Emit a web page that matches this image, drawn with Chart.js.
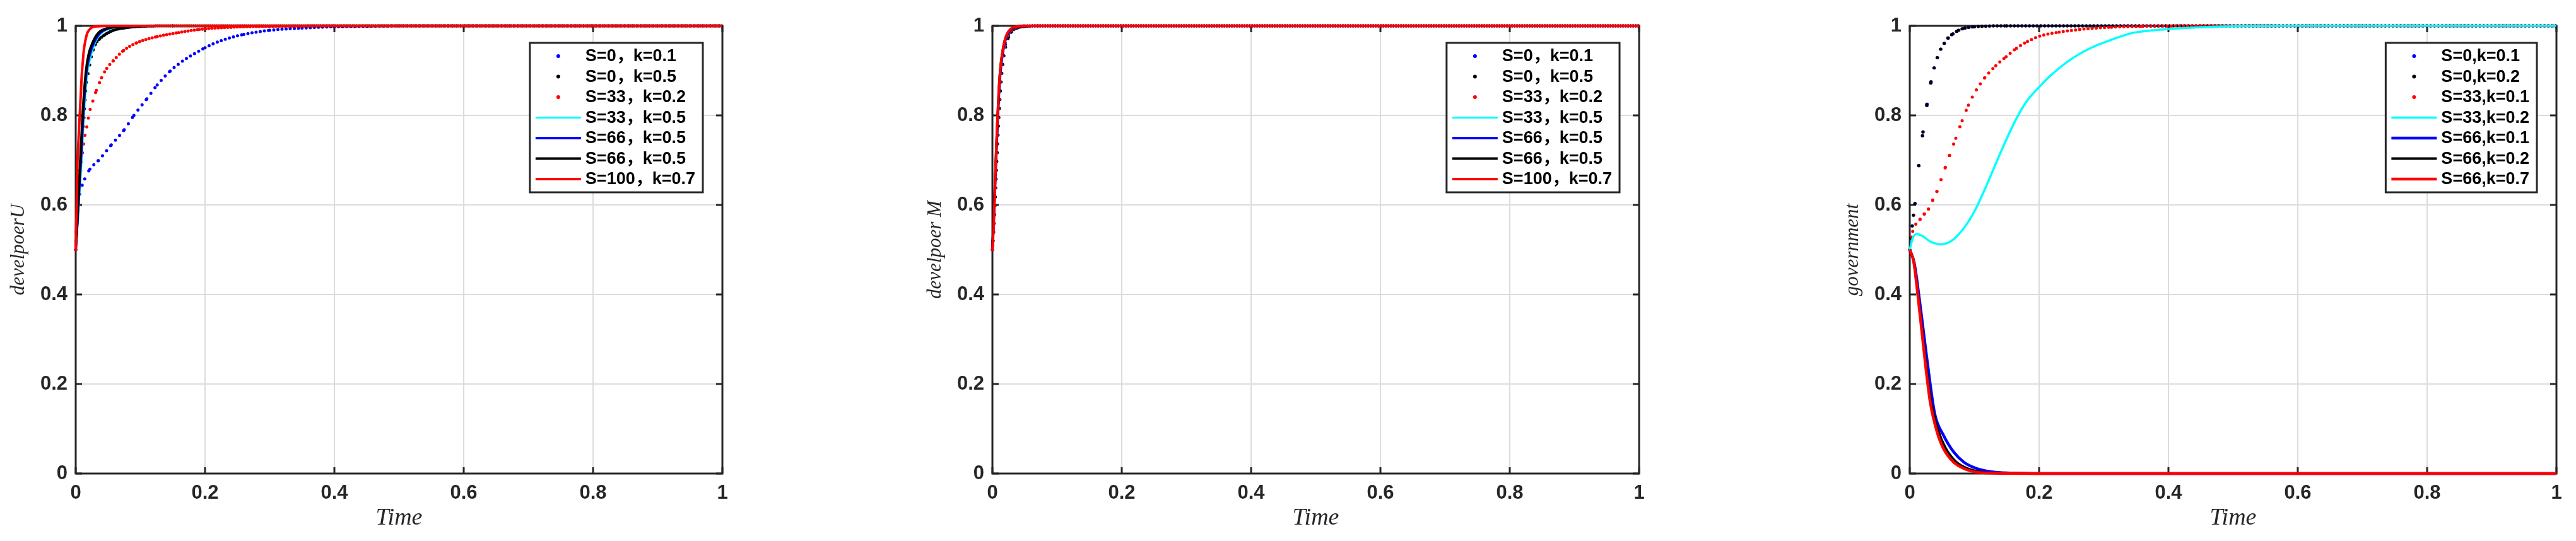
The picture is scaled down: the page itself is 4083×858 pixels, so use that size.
<!DOCTYPE html>
<html>
<head>
<meta charset="utf-8">
<script src="https://cdn.jsdelivr.net/npm/chart.js@4.4.0/dist/chart.umd.min.js"></script>
<style>
  body { margin: 0; background: #fff; width: 4083px; height: 858px; overflow: hidden; position: relative; }
  canvas { position: absolute; top: 0; }
</style>
</head>
<body>
<canvas id="chartU" width="1170" height="858" style="left:0px"></canvas>
<canvas id="chartM" width="1170" height="858" style="left:1453px"></canvas>
<canvas id="chartG" width="1170" height="858" style="left:2907px"></canvas>
<script>
// ticks
const TIME_TICKS = [0, 0.2, 0.4, 0.6, 0.8, 1];
const VALUE_TICKS = [0, 0.2, 0.4, 0.6, 0.8, 1];
const TICK_LABELS = ["0", "0.2", "0.4", "0.6", "0.8", "1"];

// legend labels
const LABELS_U = ["S=0，k=0.1", "S=0，k=0.5", "S=33，k=0.2", "S=33，k=0.5", "S=66，k=0.5", "S=66，k=0.5", "S=100，k=0.7"];
const LABELS_M = ["S=0，k=0.1", "S=0，k=0.5", "S=33，k=0.2", "S=33，k=0.5", "S=66，k=0.5", "S=66，k=0.5", "S=100，k=0.7"];
const LABELS_G = ["S=0,k=0.1", "S=0,k=0.2", "S=33,k=0.1", "S=33,k=0.2", "S=66,k=0.1", "S=66,k=0.2", "S=66,k=0.7"];

// developer U
const u_t1 = [0, 0.002, 0.004, 0.006, 0.01, 0.014, 0.022, 0.035, 0.055, 0.075, 0.09, 0.11, 0.126, 0.146, 0.165, 0.2, 0.225, 0.26, 0.3, 0.35, 0.4, 0.45, 0.5, 0.6, 0.8, 1];
const u_v1 = [0.5, 0.55, 0.6, 0.624, 0.644, 0.658, 0.68, 0.699, 0.734, 0.768, 0.8, 0.837, 0.868, 0.899, 0.921, 0.951, 0.967, 0.981, 0.99, 0.995, 0.998, 0.999, 1, 1, 1, 1];
const u_t2 = [0, 0.002, 0.0054, 0.01, 0.0125, 0.0145, 0.0168, 0.019, 0.0207, 0.0223, 0.024, 0.0271, 0.0304, 0.037, 0.045, 0.058, 0.078, 0.1, 0.15, 0.3, 0.5, 0.7, 1];
const u_v2 = [0.5, 0.58, 0.666, 0.734, 0.79, 0.837, 0.877, 0.893, 0.905, 0.919, 0.931, 0.947, 0.959, 0.971, 0.98, 0.99, 0.996, 0.999, 1, 1, 1, 1, 1];
const u_t3 = [0, 0.0034, 0.006, 0.0086, 0.011, 0.014, 0.0174, 0.0207, 0.0256, 0.032, 0.04, 0.048, 0.058, 0.074, 0.094, 0.126, 0.159, 0.191, 0.24, 0.3, 0.4, 0.6, 0.8, 1];
const u_v3 = [0.5, 0.612, 0.656, 0.691, 0.724, 0.753, 0.776, 0.804, 0.828, 0.856, 0.884, 0.905, 0.922, 0.945, 0.962, 0.976, 0.985, 0.992, 0.997, 0.999, 1, 1, 1, 1];
const u_t4 = [0, 0.003, 0.006, 0.0093, 0.0125, 0.0174, 0.0223, 0.029, 0.0385, 0.055, 0.075, 0.1, 0.2, 0.5, 1];
const u_v4 = [0.5, 0.56, 0.63, 0.701, 0.795, 0.889, 0.926, 0.959, 0.982, 0.994, 0.998, 1, 1, 1, 1];
const u_t5 = [0, 0.003, 0.006, 0.009, 0.012, 0.0165, 0.021, 0.028, 0.037, 0.052, 0.07, 0.1, 0.2, 0.5, 1];
const u_v5 = [0.5, 0.57, 0.65, 0.725, 0.81, 0.895, 0.932, 0.962, 0.983, 0.995, 0.998, 1, 1, 1, 1];
const u_t6 = [0, 0.003, 0.006, 0.0085, 0.0115, 0.016, 0.02, 0.027, 0.035, 0.05, 0.068, 0.1, 0.2, 0.5, 1];
const u_v6 = [0.5, 0.58, 0.67, 0.74, 0.82, 0.9, 0.936, 0.965, 0.984, 0.995, 0.998, 1, 1, 1, 1];
const u_t7 = [0, 0.0015, 0.0028, 0.0045, 0.006, 0.0078, 0.0093, 0.011, 0.0125, 0.015, 0.0174, 0.021, 0.0256, 0.035, 0.05, 0.1, 0.5, 1];
const u_v7 = [0.5, 0.6, 0.7, 0.75, 0.795, 0.845, 0.889, 0.92, 0.945, 0.967, 0.982, 0.991, 0.997, 0.999, 1, 1, 1, 1];

// developer M
const m_tDots = [0, 0.002, 0.004, 0.006, 0.008, 0.01, 0.012, 0.014, 0.017, 0.02, 0.025, 0.03, 0.04, 0.05, 0.07, 0.1, 0.3, 0.6, 1];
const m_v1 = [0.5, 0.55, 0.62, 0.69, 0.76, 0.82, 0.866, 0.9, 0.935, 0.958, 0.98, 0.99, 0.997, 0.999, 1, 1, 1, 1, 1];
const m_v2 = [0.5, 0.54, 0.6, 0.67, 0.735, 0.795, 0.845, 0.885, 0.925, 0.95, 0.975, 0.988, 0.996, 0.999, 1, 1, 1, 1, 1];
const m_v3 = [0.5, 0.56, 0.63, 0.7, 0.77, 0.83, 0.875, 0.908, 0.94, 0.962, 0.982, 0.991, 0.998, 1, 1, 1, 1, 1, 1];
const m_tLines = [0, 0.002, 0.004, 0.006, 0.008, 0.01, 0.012, 0.015, 0.02, 0.025, 0.03, 0.04, 0.06, 0.1, 0.5, 1];
const m_v4 = [0.5, 0.56, 0.635, 0.71, 0.78, 0.84, 0.885, 0.925, 0.965, 0.983, 0.992, 0.998, 1, 1, 1, 1];
const m_v5 = [0.5, 0.565, 0.64, 0.715, 0.785, 0.845, 0.89, 0.93, 0.968, 0.985, 0.993, 0.998, 1, 1, 1, 1];
const m_v6 = [0.5, 0.57, 0.65, 0.725, 0.795, 0.855, 0.9, 0.936, 0.972, 0.987, 0.994, 0.999, 1, 1, 1, 1];
const m_v7 = [0.5, 0.555, 0.64, 0.73, 0.8, 0.86, 0.9, 0.937, 0.972, 0.988, 0.995, 0.999, 1, 1, 1, 1];

// government
const g_t1 = [0, 0.0022, 0.004, 0.006, 0.0083, 0.0142, 0.0208, 0.027, 0.0332, 0.0381, 0.043, 0.0482, 0.0537, 0.0596, 0.0671, 0.076, 0.086, 0.1, 0.15, 0.3, 0.6, 1];
const g_v1 = [0.5, 0.526, 0.553, 0.577, 0.603, 0.688, 0.763, 0.825, 0.875, 0.906, 0.929, 0.948, 0.961, 0.973, 0.982, 0.99, 0.995, 0.998, 1, 1, 1, 1];
const g_t2 = [0, 0.0018, 0.0036, 0.0055, 0.0078, 0.0136, 0.0202, 0.0263, 0.0325, 0.0374, 0.0423, 0.0475, 0.053, 0.0589, 0.0664, 0.075, 0.085, 0.1, 0.15, 0.3, 0.6, 1];
const g_v2 = [0.5, 0.526, 0.553, 0.577, 0.603, 0.688, 0.763, 0.825, 0.875, 0.906, 0.929, 0.948, 0.961, 0.973, 0.982, 0.99, 0.995, 0.998, 1, 1, 1, 1];
const g_t3 = [0, 0.0046, 0.0094, 0.016, 0.0226, 0.029, 0.0356, 0.042, 0.0485, 0.055, 0.0615, 0.0712, 0.081, 0.0907, 0.103, 0.116, 0.133, 0.149, 0.165, 0.182, 0.201, 0.231, 0.263, 0.312, 0.36, 0.45, 0.6, 0.8, 1];
const g_v3 = [0.5, 0.541, 0.557, 0.568, 0.58, 0.591, 0.611, 0.63, 0.657, 0.684, 0.711, 0.749, 0.788, 0.823, 0.857, 0.884, 0.911, 0.931, 0.95, 0.965, 0.977, 0.986, 0.992, 0.997, 0.999, 1, 1, 1, 1];
const g_t4 = [0, 0.0046, 0.011, 0.0192, 0.032, 0.0485, 0.0647, 0.084, 0.1005, 0.117, 0.133, 0.149, 0.166, 0.182, 0.2, 0.214, 0.247, 0.279, 0.312, 0.344, 0.4, 0.45, 0.5, 0.6, 0.8, 1];
const g_v4 = [0.5, 0.526, 0.535, 0.531, 0.518, 0.512, 0.52, 0.549, 0.587, 0.638, 0.692, 0.745, 0.796, 0.834, 0.863, 0.884, 0.923, 0.95, 0.969, 0.984, 0.993, 0.997, 0.999, 1, 1, 1];
const g_t5 = [0, 0.007, 0.014, 0.021, 0.028, 0.0387, 0.052, 0.068, 0.084, 0.1, 0.117, 0.14, 0.16, 0.2, 0.5, 1];
const g_v5 = [0.5, 0.47, 0.4, 0.32, 0.24, 0.133, 0.086, 0.048, 0.025, 0.013, 0.006, 0.002, 0.001, 0, 0, 0];
const g_t6 = [0, 0.0065, 0.013, 0.0198, 0.0265, 0.033, 0.044, 0.055, 0.071, 0.088, 0.108, 0.135, 0.2, 0.5, 1];
const g_v6 = [0.5, 0.471, 0.396, 0.312, 0.228, 0.16, 0.096, 0.058, 0.027, 0.012, 0.004, 0.001, 0, 0, 0];
const g_t7 = [0, 0.0062, 0.0127, 0.0192, 0.0257, 0.032, 0.042, 0.052, 0.068, 0.084, 0.104, 0.13, 0.2, 0.5, 1];
const g_v7 = [0.5, 0.472, 0.395, 0.31, 0.225, 0.156, 0.094, 0.056, 0.025, 0.011, 0.003, 0.001, 0, 0, 0];

const BLUE = "#0000ff", BLACK = "#000000", RED = "#ff0000", CYAN = "#00ffff";
const AXIS_COLOR = "#262626";
const TICK_LEN = 10;

// dots spaced like equal time steps: gap grows with the slope
function dotGap(step, maxGap) {
  return (ctx) => {
    let dx = ctx.p1.x - ctx.p0.x;
    let dy = ctx.p1.y - ctx.p0.y;
    let gap = dx > 0.01 ? step * Math.hypot(dx, dy) / dx : maxGap;
    gap = Math.max(step, Math.min(maxGap, gap));
    return [0, gap];
  };
}

function series(label, t, v, color, style) {
  let ds = {
    label: label,
    data: t.map((x, i) => ({ x: x, y: v[i] })),
    borderColor: color,
    backgroundColor: color,
    pointRadius: 0,
    fill: false,
    cubicInterpolationMode: "monotone",
    clip: 10,
  };
  if (style.dot) {
    ds.dotted = true;
    ds.borderWidth = 5;
    ds.borderCapStyle = "round";
    ds.segment = { borderDash: dotGap(style.dot, style.max || 30) };
  } else {
    ds.borderWidth = style.width;
    ds.legendWidth = style.width;
  }
  return ds;
}

const framePlugin = {
  id: "frame",
  beforeDatasetsDraw(chart) {
    let ctx = chart.ctx;
    let a = chart.chartArea;
    let x = chart.scales.x, y = chart.scales.y;
    ctx.save();
    ctx.strokeStyle = AXIS_COLOR;
    ctx.lineWidth = 3;
    ctx.strokeRect(a.left, a.top, a.right - a.left, a.bottom - a.top);
    ctx.beginPath();
    TIME_TICKS.forEach((v) => {
      let px = x.getPixelForValue(v);
      ctx.moveTo(px, a.bottom); ctx.lineTo(px, a.bottom - TICK_LEN);
      ctx.moveTo(px, a.top); ctx.lineTo(px, a.top + TICK_LEN);
    });
    VALUE_TICKS.forEach((v) => {
      let py = y.getPixelForValue(v);
      ctx.moveTo(a.left, py); ctx.lineTo(a.left + TICK_LEN, py);
      ctx.moveTo(a.right, py); ctx.lineTo(a.right - TICK_LEN, py);
    });
    ctx.stroke();
    ctx.restore();
  },
};

const boxLegend = {
  id: "boxLegend",
  afterDraw(chart) {
    let ctx = chart.ctx;
    let a = chart.chartArea;
    let sets = chart.data.datasets;
    ctx.save();
    ctx.font = 'bold 27px "Liberation Sans", "Noto Sans CJK SC", Arial, sans-serif';
    let textW = Math.max(...sets.map((d) => ctx.measureText(d.label).width));
    let w = 88 + textW + 12, h = 237;
    let right = a.right - 31, top = a.top + 27, left = right - w;
    ctx.fillStyle = "#fff";
    ctx.fillRect(left, top, w, h);
    ctx.strokeStyle = AXIS_COLOR;
    ctx.lineWidth = 3;
    ctx.strokeRect(left, top, w, h);
    sets.forEach((d, i) => {
      let cy = top + 21 + i * 32.5;
      if (d.dotted) {
        ctx.beginPath();
        ctx.arc(left + 45, cy, 3, 0, 2 * Math.PI);
        ctx.fillStyle = d.borderColor;
        ctx.fill();
      } else {
        ctx.beginPath();
        ctx.moveTo(left + 9, cy);
        ctx.lineTo(left + 81, cy);
        ctx.strokeStyle = d.borderColor;
        ctx.lineWidth = d.legendWidth;
        ctx.stroke();
      }
      ctx.fillStyle = "#000";
      ctx.textBaseline = "middle";
      ctx.textAlign = "left";
      ctx.fillText(d.label, left + 88, cy + 1);
    });
    ctx.restore();
  },
};

const tickFont = { family: '"Liberation Sans", Arial, sans-serif', size: 31, weight: "bold" };
const titleFont = { family: '"Liberation Serif", "Times New Roman", serif', style: "italic", weight: "normal" };

function makeChart(id, yTitle, datasets) {
  datasets.forEach((d, i) => { d.order = datasets.length - i; });
  return new Chart(document.getElementById(id), {
    type: "line",
    data: { datasets: datasets },
    options: {
      responsive: false,
      animation: false,
      devicePixelRatio: 1,
      layout: { padding: { top: 41, right: 25, left: 0, bottom: 0 } },
      plugins: { legend: { display: false }, tooltip: { enabled: false } },
      scales: {
        x: {
          type: "linear",
          min: 0,
          max: 1,
          afterBuildTicks: (s) => { s.ticks = TIME_TICKS.map((v) => ({ value: v })); },
          afterFit: (s) => { s.height = 107; },
          ticks: { font: tickFont, color: AXIS_COLOR, padding: 13, maxRotation: 0, autoSkip: false, callback: (v, i) => TICK_LABELS[i] },
          grid: { color: "#dcdcdc", lineWidth: 2, drawTicks: false },
          border: { display: false },
          title: { display: true, text: "Time", color: AXIS_COLOR, font: Object.assign({ size: 38 }, titleFont), padding: { top: 0, bottom: 13 } },
        },
        y: {
          type: "linear",
          min: 0,
          max: 1,
          afterBuildTicks: (s) => { s.ticks = VALUE_TICKS.map((v) => ({ value: v })); },
          afterFit: (s) => { s.width = 120; },
          ticks: { font: tickFont, color: AXIS_COLOR, padding: 13, autoSkip: false, callback: (v, i) => TICK_LABELS[i] },
          grid: { color: "#dcdcdc", lineWidth: 2, drawTicks: false },
          border: { display: false },
          title: { display: true, text: yTitle, color: AXIS_COLOR, font: Object.assign({ size: 31 }, titleFont), padding: { top: 11, bottom: 0 } },
        },
      },
    },
    plugins: [framePlugin, boxLegend],
  });
}

makeChart("chartU", "develpoerU", [
  series(LABELS_U[0], u_t1, u_v1, BLUE, { dot: 6.5, max: 25 }),
  series(LABELS_U[1], u_t2, u_v2, BLACK, { dot: 3, max: 14 }),
  series(LABELS_U[2], u_t3, u_v3, RED, { dot: 5, max: 14 }),
  series(LABELS_U[3], u_t4, u_v4, CYAN, { width: 3 }),
  series(LABELS_U[4], u_t5, u_v5, BLUE, { width: 4 }),
  series(LABELS_U[5], u_t6, u_v6, BLACK, { width: 4 }),
  series(LABELS_U[6], u_t7, u_v7, RED, { width: 4 }),
]);

makeChart("chartM", "develpoer M", [
  series(LABELS_M[0], m_tDots, m_v1, BLUE, { dot: 4, max: 14 }),
  series(LABELS_M[1], m_tDots, m_v2, BLACK, { dot: 4, max: 14 }),
  series(LABELS_M[2], m_tDots, m_v3, RED, { dot: 4, max: 14 }),
  series(LABELS_M[3], m_tLines, m_v4, CYAN, { width: 3 }),
  series(LABELS_M[4], m_tLines, m_v5, BLUE, { width: 4 }),
  series(LABELS_M[5], m_tLines, m_v6, BLACK, { width: 4 }),
  series(LABELS_M[6], m_tLines, m_v7, RED, { width: 4 }),
]);

makeChart("chartG", "government", [
  series(LABELS_G[0], g_t1, g_v1, BLUE, { dot: 6, max: 70 }),
  series(LABELS_G[1], g_t2, g_v2, BLACK, { dot: 6, max: 70 }),
  series(LABELS_G[2], g_t3, g_v3, RED, { dot: 6.5, max: 20 }),
  series(LABELS_G[3], g_t4, g_v4, CYAN, { width: 3.5 }),
  series(LABELS_G[4], g_t5, g_v5, BLUE, { width: 4.5 }),
  series(LABELS_G[5], g_t6, g_v6, BLACK, { width: 4 }),
  series(LABELS_G[6], g_t7, g_v7, RED, { width: 4.5 }),
]);
</script>
</body>
</html>
